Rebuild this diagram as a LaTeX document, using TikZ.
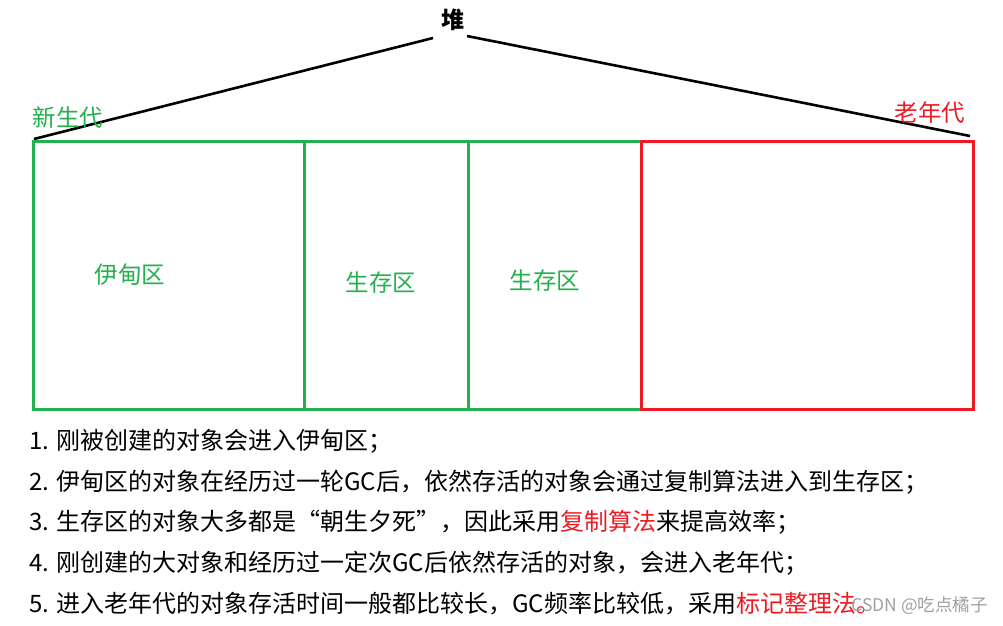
\documentclass[tikz,border=0pt]{standalone}
\usepackage{fontspec}
\setmainfont{Noto Sans CJK SC}
\definecolor{pgreen}{RGB}{34,177,76}
\definecolor{pred}{RGB}{237,28,36}
\definecolor{wmgray}{RGB}{160,160,160}
\begin{document}
\begin{tikzpicture}[x=1pt,y=-1pt,
  region/.style={draw=pgreen,line width=3pt},
  oldregion/.style={draw=pred,line width=3pt},
  roof/.style={draw=black,line width=2.6pt},
  lbl/.style={inner sep=0pt,font=\fontsize{23.5}{23.5}\selectfont},
  note/.style={inner sep=0pt,anchor=west,font=\fontsize{24}{24}\selectfont},
]
\useasboundingbox (0,0) rectangle (1003,625);
% title
\node[inner sep=0pt,font=\fontsize{23}{23}\selectfont\bfseries] (heap) at (453,20) {堆};
\coordinate (roofL1) at (34,139);
\coordinate (roofL2) at (433,38);
\coordinate (roofR1) at (467,36);
\coordinate (roofR2) at (970,136);
\draw[roof] (roofL1) -- (roofL2);
\draw[roof] (roofR1) -- (roofR2);
\node[lbl,text=pgreen] (young) at (68,118) {新生代};
\node[lbl,text=pred] (old) at (930,113) {老年代};
% regions
\draw[region] (33,141) rectangle (641,409);
\draw[region] (304,141) -- (304,409);
\draw[region] (468,141) -- (468,409);
\draw[oldregion] (641,141) rectangle (973,409);
\node[lbl,text=pgreen] (eden) at (130,275) {伊甸区};
\node[lbl,text=pgreen] (s0) at (381,283) {生存区};
\node[lbl,text=pgreen] (s1) at (545,281) {生存区};
% notes
\node[note] (n1) at (29,441) {1. 刚被创建的对象会进入伊甸区；};
\node[note] (n2) at (29,482) {2. 伊甸区的对象在经历过一轮GC后，依然存活的对象会通过复制算法进入到生存区；};
\node[note] (n3) at (29,522) {3. 生存区的对象大多都是“朝生夕死”，因此采用\textcolor{pred}{复制算法}来提高效率；};
\node[note] (n4) at (29,563) {4. 刚创建的大对象和经历过一定次GC后依然存活的对象，会进入老年代；};
\node[note] (n5) at (29,604) {5. 进入老年代的对象存活时间一般都比较长，GC频率比较低，采用\textcolor{pred}{标记整理法。}};
\node[inner sep=0pt,anchor=east,text=wmgray,font=\fontsize{17.5}{17.5}\selectfont] (wm) at (988,606) {CSDN @吃点橘子};
\end{tikzpicture}
\end{document}
